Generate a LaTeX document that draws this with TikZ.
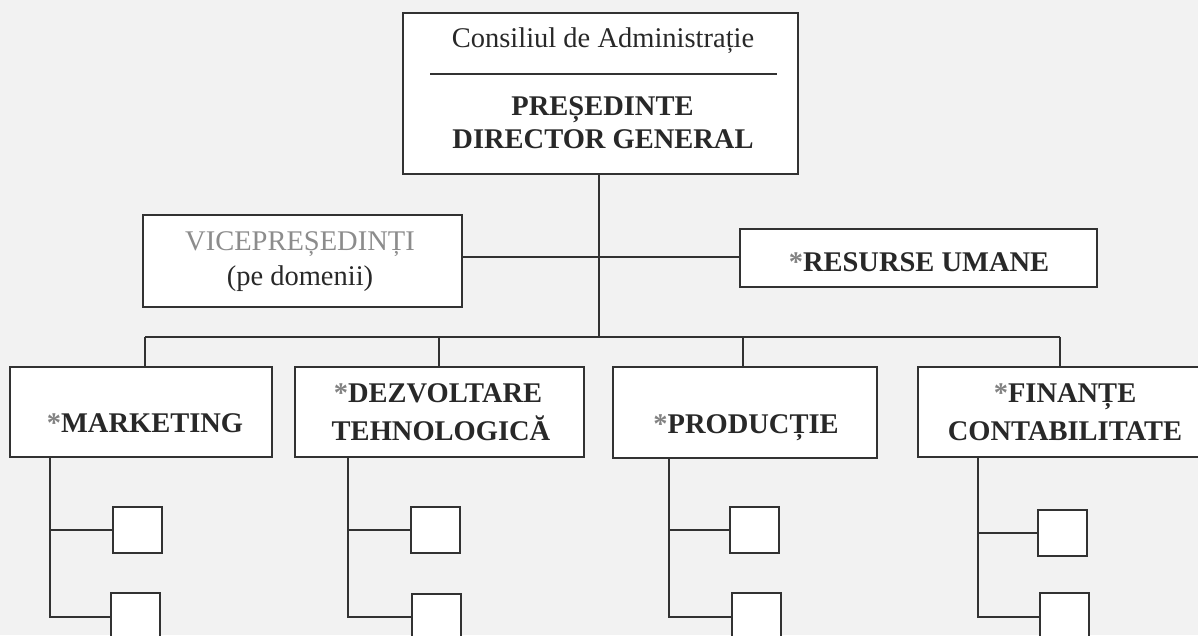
\documentclass[tikz,border=0pt]{standalone}
\usepackage{fontspec}
\setmainfont{Liberation Serif}
\definecolor{bgcol}{RGB}{242,242,242}
\definecolor{linecol}{RGB}{50,50,50}
\definecolor{txtcol}{RGB}{40,40,40}
\definecolor{astcol}{RGB}{130,130,130}
\definecolor{vicecol}{RGB}{140,140,140}
\newcommand{\myast}{\textcolor{astcol}{*}}
\begin{document}
\begin{tikzpicture}[x=1pt,y=-1pt,
  box/.style={draw=linecol,fill=white,line width=2pt,rectangle,inner sep=0pt},
  subbox/.style={box,minimum width=49pt,minimum height=46pt},
  conn/.style={draw=linecol,line width=2pt},
  reg/.style={anchor=base,inner sep=0pt,text=txtcol,font=\fontsize{28.5}{34}\selectfont},
  bld/.style={anchor=base,inner sep=0pt,text=txtcol,font=\fontsize{28.5}{34}\selectfont\bfseries}]
\useasboundingbox[fill=bgcol] (0,0) rectangle (1198,635);
% main boxes
\node[box,minimum width=395pt,minimum height=161pt] (top) at (600.5,93.5) {};
\node[box,minimum width=319pt,minimum height=92pt] (vice) at (302.5,261) {};
\node[box,minimum width=357pt,minimum height=58pt] (res) at (918.5,258) {};
\node[box,minimum width=262pt,minimum height=90pt] (mkt) at (141,412) {};
\node[box,minimum width=289pt,minimum height=90pt] (dez) at (439.5,412) {};
\node[box,minimum width=264pt,minimum height=91pt] (prod) at (745,412.5) {};
\node[box,minimum width=292pt,minimum height=90pt] (fin) at (1064,412) {};
% small boxes
\node[subbox] (m1) at (137.5,530) {};
\node[subbox,minimum height=47pt] (m2) at (135,616.5) {};
\node[subbox] (d1) at (435,530) {};
\node[subbox,minimum height=47pt] (d2) at (436.5,617) {};
\node[subbox] (p1) at (754.5,530) {};
\node[subbox,minimum height=47pt] (p2) at (756,616.5) {};
\node[subbox] (f1) at (1062,532.5) {};
\node[subbox,minimum height=47pt] (f2) at (1064,616.5) {};
% coordinates
\coordinate (hline) at (599,257);
\coordinate (bus) at (599,337);
\coordinate (cm) at (145,337);
\coordinate (cd) at (439,337);
\coordinate (cp) at (743,337);
\coordinate (cf) at (1060,337);
\coordinate (vm) at (50,0);
\coordinate (vd) at (348,0);
\coordinate (vp) at (669,0);
\coordinate (vf) at (978,0);
\coordinate (sepL) at (430,74);
\coordinate (sepR) at (777,74);
% connectors
\draw[conn] (bus |- top.south) -- (bus);
\draw[conn] (vice.east |- hline) -- (res.west |- hline);
\draw[conn] (cm) -- (cf);
\draw[conn] (cm) -- (cm |- mkt.north);
\draw[conn] (cd) -- (cd |- dez.north);
\draw[conn] (cp) -- (cp |- prod.north);
\draw[conn] (cf) -- (cf |- fin.north);
\draw[conn] (vm |- mkt.south) |- (m2.west);
\draw[conn] (vm |- m1.west) -- (m1.west);
\draw[conn] (vd |- dez.south) |- (d2.west);
\draw[conn] (vd |- d1.west) -- (d1.west);
\draw[conn] (vp |- prod.south) |- (p2.west);
\draw[conn] (vp |- p1.west) -- (p1.west);
\draw[conn] (vf |- fin.south) |- (f2.west);
\draw[conn] (vf |- f1.west) -- (f1.west);
\draw[conn] (sepL) -- (sepR);
% texts
\node[reg] (t1) at (603,47) {Consiliul de Administrație};
\node[bld] (t2) at (602.5,115) {PREȘEDINTE};
\node[bld] (t3) at (603,148) {DIRECTOR GENERAL};
\node[reg,text=vicecol] (t4) at (300,250) {VICEPREȘEDINȚI};
\node[reg] (t5) at (300,285) {(pe domenii)};
\node[bld] (t6) at (919,271) {\myast RESURSE UMANE};
\node[bld] (t7) at (145,432) {\myast MARKETING};
\node[bld] (t8) at (438,402) {\myast DEZVOLTARE};
\node[bld] (t9) at (441,440) {TEHNOLOGICĂ};
\node[bld] (t10) at (746,433) {\myast PRODUCȚIE};
\node[bld] (t11) at (1065,402) {\myast FINANȚE};
\node[bld] (t12) at (1065,440) {CONTABILITATE};
\end{tikzpicture}
\end{document}
